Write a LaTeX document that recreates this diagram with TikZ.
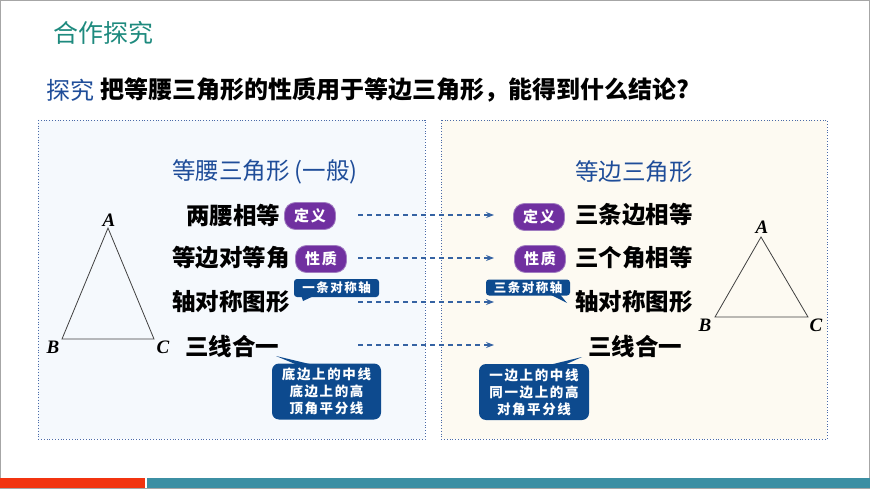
\documentclass[tikz,border=0pt]{standalone}
\usepackage{fontspec}
\setmainfont{Liberation Serif}
\newfontfamily\cjk{Noto Sans CJK SC}
\newfontfamily\cjksp{Noto Sans CJK SC}[LetterSpace=12]
\usetikzlibrary{arrows.meta}
\definecolor{tealt}{HTML}{1E8A7E}
\definecolor{headb}{HTML}{1F4D99}
\definecolor{pill}{HTML}{7030A0}
\definecolor{pillbd}{HTML}{A07CC0}
\definecolor{callb}{HTML}{0D4A8E}
\definecolor{arrb}{HTML}{3563A3}
\definecolor{lfill}{HTML}{F5F9FD}
\definecolor{rfill}{HTML}{FDFAF2}
\definecolor{pbord}{HTML}{4A6AA8}
\definecolor{redbar}{HTML}{F23410}
\definecolor{tealbar}{HTML}{3C8FA3}
\tikzset{
  big/.style={font=\cjk\bfseries\fontsize{23.5}{26}\selectfont, inner sep=0pt},
  head/.style={font=\cjk\fontsize{23.5}{26}\selectfont, inner sep=0pt, text=headb},
  pillbox/.style={fill=pill, draw=pillbd, line width=0.8pt, text=white, rounded corners=11pt, minimum width=51pt, minimum height=27pt, inner sep=0pt, font=\cjksp\bfseries\fontsize{15}{16}\selectfont},
  callbox/.style={fill=callb, text=white, rounded corners=7pt, inner sep=0pt, font=\cjksp\bfseries\fontsize{13.5}{17}\selectfont, align=center},
  darr/.style={arrb, line width=1.1pt, dash pattern=on 5pt off 4pt, -{Stealth[length=8pt,width=6pt]}},
  tri/.style={draw=black!75, line width=0.8pt},
  vlab/.style={font=\bfseries\itshape\fontsize{19}{19}\selectfont, inner sep=0pt},
  panel/.style={draw=pbord, dotted, line width=0.8pt}
}
\begin{document}
\begin{tikzpicture}[x=1pt,y=-1pt]
\useasboundingbox (0,0) rectangle (870,489);
\draw[black!35, line width=0.8pt] (0.4,0.4) rectangle (869.6,488.6);
% title
\node[inner sep=0pt, text=tealt, font=\cjk\fontsize{25}{28}\selectfont] (title) at (103,33) {合作探究};
\node[head, font=\cjk\fontsize{24}{26}\selectfont, anchor=west] (q1) at (46,90) {探究};
\node[big, font=\cjk\bfseries\fontsize{24}{26}\selectfont, anchor=west] (q2) at (100,90) {把等腰三角形的性质用于等边三角形，能得到什么结论?};
% panels
\path[panel, fill=lfill] (38,120) rectangle (425,439);
\path[panel, fill=rfill] (441,120) rectangle (827,439);
% bottom bars
\fill[redbar] (0,478) rectangle (145,488);
\fill[tealbar] (147,478) rectangle (870,488);
% headings
\node[head] (lh) at (265,172) {等腰三角形 (一般)};
\node[head] (rh) at (634,172) {等边三角形};
% left rows
\node[big] (l1) at (233,215) {两腰相等};
\node[pillbox] (lp1) at (310,216) {定义};
\node[big] (l2) at (231,258) {等边对等角};
\node[pillbox] (lp2) at (321,259) {性质};
\node[big] (l3) at (231,302) {轴对称图形};
\node[big] (l4) at (232,347) {三线合一};
% right rows
\node[pillbox] (rp1) at (539,217) {定义};
\node[big] (r1) at (634,215) {三条边相等};
\node[pillbox] (rp2) at (540,259) {性质};
\node[big] (r2) at (634,258) {三个角相等};
\node[big] (r3) at (634,302) {轴对称图形};
\node[big] (r4) at (635,347) {三线合一};
% callouts
\coordinate (t1) at (303,301);
\fill[callb] (300,292) -- (t1) -- (318,294) -- cycle;
\node[callbox, font=\cjksp\bfseries\fontsize{12.5}{15}\selectfont, minimum width=85pt, minimum height=18pt, rounded corners=3pt] (c1) at (336.5,288) {一条对称轴};
\coordinate (t2) at (567,303);
\fill[callb] (545,292) -- (t2) -- (558,292) -- cycle;
\node[callbox, font=\cjksp\bfseries\fontsize{12.5}{15}\selectfont, minimum width=84pt, minimum height=16pt, rounded corners=3pt] (c2) at (528,287.5) {三条对称轴};
\coordinate (t3) at (276,356);
\fill[callb] (300,366) -- (t3) -- (318,366) -- cycle;
\node[callbox, minimum width=109pt, minimum height=56pt] (c3) at (326.5,391.5) {底边上的中线\\底边上的高\\顶角平分线};
\coordinate (t4) at (582,357);
\fill[callb] (545,366) -- (t4) -- (562,366) -- cycle;
\node[callbox, minimum width=110pt, minimum height=56pt] (c4) at (534,392) {一边上的中线\\同一边上的高\\对角平分线};
% dashed arrows
\foreach \y/\n in {215/a,258/b,302/c,345/d}{
  \coordinate (s\n) at (358,\y);
  \coordinate (e\n) at (494,\y);
  \draw[darr] (s\n) -- (e\n);
}
% left triangle
\coordinate (A) at (108,228);
\coordinate (B) at (62,339);
\coordinate (C) at (154,339);
\draw[tri] (A) -- (B) -- (C) -- cycle;
\node[vlab] (la) at (109,220) {A};
\node[vlab] (lb) at (53,347) {B};
\node[vlab] (lc) at (163,347) {C};
% right triangle
\coordinate (A2) at (761,237);
\coordinate (B2) at (715,317);
\coordinate (C2) at (808,317);
\draw[tri] (A2) -- (B2) -- (C2) -- cycle;
\node[vlab] (ra) at (762,227) {A};
\node[vlab] (rb) at (705,325) {B};
\node[vlab] (rc) at (816,325) {C};
\end{tikzpicture}
\end{document}
